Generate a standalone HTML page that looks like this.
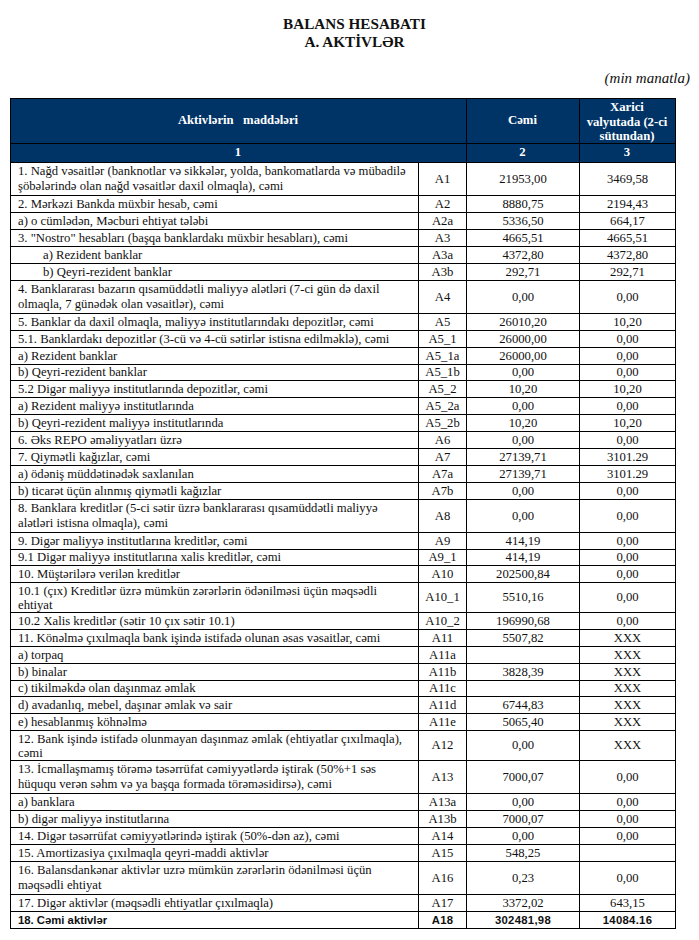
<!DOCTYPE html>
<html><head><meta charset="utf-8"><title>Balans hesabati</title>
<style>
*{margin:0;padding:0;box-sizing:border-box}
html,body{width:699px;height:940px;background:#fff;overflow:hidden}
body{position:relative;font-family:"Liberation Serif",serif;color:#111;font-size:12.7px}
.a{position:absolute}
.t{position:absolute;white-space:pre;line-height:15px}
.h{position:absolute;background:#000}
.v{position:absolute;background:#000;width:1px}
.hd{position:absolute;color:#fff;font-weight:bold;text-align:center;white-space:pre}
.c{position:absolute;display:flex;align-items:center;justify-content:center;white-space:pre;line-height:15px}
.l{position:absolute;display:flex;flex-direction:column;justify-content:center;white-space:pre;line-height:15px}
.b{font-family:"Liberation Sans",sans-serif;font-weight:bold;font-size:11.3px}
.c.b{letter-spacing:0.3px}
</style></head><body>

<div class="t" style="left:0;width:709px;top:15px;text-align:center;font-weight:bold;font-size:15.2px;line-height:17.7px">BALANS HESABATI<br>A. AKTİVLƏR</div>
<div class="t" style="right:9px;top:70px;font-style:italic;font-size:15px;line-height:16px">(min manatla)</div>
<div class="a" style="left:10px;top:98px;width:666px;height:64px;background:#003366"></div>
<div class="hd" style="left:10px;width:456px;top:113px;line-height:15px">Aktivlərin   maddələri</div>
<div class="hd" style="left:10px;width:456px;top:145px;line-height:15px">1</div>
<div class="hd" style="left:466px;width:113px;top:113px;line-height:15px">Cəmi</div>
<div class="hd" style="left:466px;width:113px;top:145px;line-height:15px">2</div>
<div class="hd" style="left:579px;width:96px;top:100px;line-height:14.6px">Xarici<br>valyutada (2-ci<br>sütundan)</div>
<div class="hd" style="left:579px;width:96px;top:145px;line-height:15px">3</div>
<div class="h" style="left:10px;top:98px;width:666px;height:1px"></div>
<div class="h" style="left:10px;top:143px;width:666px;height:1px"></div>
<div class="h" style="left:10px;top:162px;width:666px;height:1px"></div>
<div class="h" style="left:10px;top:195px;width:666px;height:1px"></div>
<div class="h" style="left:10px;top:212px;width:666px;height:1px"></div>
<div class="h" style="left:10px;top:229px;width:666px;height:1px"></div>
<div class="h" style="left:10px;top:246px;width:666px;height:1px"></div>
<div class="h" style="left:10px;top:263px;width:666px;height:1px"></div>
<div class="h" style="left:10px;top:280px;width:666px;height:1px"></div>
<div class="h" style="left:10px;top:313px;width:666px;height:1px"></div>
<div class="h" style="left:10px;top:330px;width:666px;height:1px"></div>
<div class="h" style="left:10px;top:347px;width:666px;height:1px"></div>
<div class="h" style="left:10px;top:364px;width:666px;height:1px"></div>
<div class="h" style="left:10px;top:380px;width:666px;height:1px"></div>
<div class="h" style="left:10px;top:397px;width:666px;height:1px"></div>
<div class="h" style="left:10px;top:414px;width:666px;height:1px"></div>
<div class="h" style="left:10px;top:431px;width:666px;height:1px"></div>
<div class="h" style="left:10px;top:448px;width:666px;height:1px"></div>
<div class="h" style="left:10px;top:465px;width:666px;height:1px"></div>
<div class="h" style="left:10px;top:482px;width:666px;height:1px"></div>
<div class="h" style="left:10px;top:499px;width:666px;height:1px"></div>
<div class="h" style="left:10px;top:532px;width:666px;height:1px"></div>
<div class="h" style="left:10px;top:549px;width:666px;height:1px"></div>
<div class="h" style="left:10px;top:565px;width:666px;height:1px"></div>
<div class="h" style="left:10px;top:582px;width:666px;height:1px"></div>
<div class="h" style="left:10px;top:612px;width:666px;height:1px"></div>
<div class="h" style="left:10px;top:629px;width:666px;height:1px"></div>
<div class="h" style="left:10px;top:646px;width:666px;height:1px"></div>
<div class="h" style="left:10px;top:663px;width:666px;height:1px"></div>
<div class="h" style="left:10px;top:680px;width:666px;height:1px"></div>
<div class="h" style="left:10px;top:696px;width:666px;height:1px"></div>
<div class="h" style="left:10px;top:713px;width:666px;height:1px"></div>
<div class="h" style="left:10px;top:730px;width:666px;height:1px"></div>
<div class="h" style="left:10px;top:760px;width:666px;height:1px"></div>
<div class="h" style="left:10px;top:793px;width:666px;height:1px"></div>
<div class="h" style="left:10px;top:810px;width:666px;height:1px"></div>
<div class="h" style="left:10px;top:827px;width:666px;height:1px"></div>
<div class="h" style="left:10px;top:844px;width:666px;height:1px"></div>
<div class="h" style="left:10px;top:861px;width:666px;height:1px"></div>
<div class="h" style="left:10px;top:894px;width:666px;height:1px"></div>
<div class="h" style="left:10px;top:911px;width:666px;height:1px"></div>
<div class="h" style="left:10px;top:928px;width:666px;height:1px"></div>
<div class="v" style="left:10px;top:98px;height:831px"></div>
<div class="v" style="left:418px;top:162px;height:767px"></div>
<div class="v" style="left:466px;top:98px;height:831px"></div>
<div class="v" style="left:579px;top:98px;height:831px"></div>
<div class="v" style="left:675px;top:98px;height:831px"></div>
<div class="l" style="left:18px;top:163px;height:32px">1. Nağd vəsaitlər (banknotlar və sikkələr, yolda, bankomatlarda və mübadilə<br>şöbələrində olan nağd vəsaitlər daxil olmaqla), cəmi</div>
<div class="c" style="left:419px;width:47px;top:163px;height:32px">A1</div>
<div class="c" style="left:467px;width:112px;top:163px;height:32px">21953,00</div>
<div class="c" style="left:580px;width:95px;top:163px;height:32px">3469,58</div>
<div class="l" style="left:18px;top:196px;height:16px">2. Mərkəzi Bankda müxbir hesab, cəmi</div>
<div class="c" style="left:419px;width:47px;top:196px;height:16px">A2</div>
<div class="c" style="left:467px;width:112px;top:196px;height:16px">8880,75</div>
<div class="c" style="left:580px;width:95px;top:196px;height:16px">2194,43</div>
<div class="l" style="left:18px;top:213px;height:16px">a) o cümlədən, Məcburi ehtiyat tələbi</div>
<div class="c" style="left:419px;width:47px;top:213px;height:16px">A2a</div>
<div class="c" style="left:467px;width:112px;top:213px;height:16px">5336,50</div>
<div class="c" style="left:580px;width:95px;top:213px;height:16px">664,17</div>
<div class="l" style="left:18px;top:230px;height:16px">3. "Nostro" hesabları (başqa banklardakı müxbir hesabları), cəmi</div>
<div class="c" style="left:419px;width:47px;top:230px;height:16px">A3</div>
<div class="c" style="left:467px;width:112px;top:230px;height:16px">4665,51</div>
<div class="c" style="left:580px;width:95px;top:230px;height:16px">4665,51</div>
<div class="l" style="left:43px;top:247px;height:16px">a) Rezident banklar</div>
<div class="c" style="left:419px;width:47px;top:247px;height:16px">A3a</div>
<div class="c" style="left:467px;width:112px;top:247px;height:16px">4372,80</div>
<div class="c" style="left:580px;width:95px;top:247px;height:16px">4372,80</div>
<div class="l" style="left:43px;top:264px;height:16px">b) Qeyri-rezident banklar</div>
<div class="c" style="left:419px;width:47px;top:264px;height:16px">A3b</div>
<div class="c" style="left:467px;width:112px;top:264px;height:16px">292,71</div>
<div class="c" style="left:580px;width:95px;top:264px;height:16px">292,71</div>
<div class="l" style="left:18px;top:281px;height:32px">4. Banklararası bazarın qısamüddətli maliyyə alətləri (7-ci gün də daxil<br>olmaqla, 7 günədək olan vəsaitlər), cəmi</div>
<div class="c" style="left:419px;width:47px;top:281px;height:32px">A4</div>
<div class="c" style="left:467px;width:112px;top:281px;height:32px">0,00</div>
<div class="c" style="left:580px;width:95px;top:281px;height:32px">0,00</div>
<div class="l" style="left:18px;top:314px;height:16px">5. Banklar da daxil olmaqla, maliyyə institutlarındakı depozitlər, cəmi</div>
<div class="c" style="left:419px;width:47px;top:314px;height:16px">A5</div>
<div class="c" style="left:467px;width:112px;top:314px;height:16px">26010,20</div>
<div class="c" style="left:580px;width:95px;top:314px;height:16px">10,20</div>
<div class="l" style="left:18px;top:331px;height:16px">5.1. Banklardakı depozitlər (3-cü və 4-cü sətirlər istisna edilməklə), cəmi</div>
<div class="c" style="left:419px;width:47px;top:331px;height:16px">A5_1</div>
<div class="c" style="left:467px;width:112px;top:331px;height:16px">26000,00</div>
<div class="c" style="left:580px;width:95px;top:331px;height:16px">0,00</div>
<div class="l" style="left:18px;top:348px;height:16px">a) Rezident banklar</div>
<div class="c" style="left:419px;width:47px;top:348px;height:16px">A5_1a</div>
<div class="c" style="left:467px;width:112px;top:348px;height:16px">26000,00</div>
<div class="c" style="left:580px;width:95px;top:348px;height:16px">0,00</div>
<div class="l" style="left:18px;top:365px;height:15px">b) Qeyri-rezident banklar</div>
<div class="c" style="left:419px;width:47px;top:365px;height:15px">A5_1b</div>
<div class="c" style="left:467px;width:112px;top:365px;height:15px">0,00</div>
<div class="c" style="left:580px;width:95px;top:365px;height:15px">0,00</div>
<div class="l" style="left:18px;top:381px;height:16px">5.2 Digər maliyyə institutlarında depozitlər, cəmi</div>
<div class="c" style="left:419px;width:47px;top:381px;height:16px">A5_2</div>
<div class="c" style="left:467px;width:112px;top:381px;height:16px">10,20</div>
<div class="c" style="left:580px;width:95px;top:381px;height:16px">10,20</div>
<div class="l" style="left:18px;top:398px;height:16px">a) Rezident maliyyə institutlarında</div>
<div class="c" style="left:419px;width:47px;top:398px;height:16px">A5_2a</div>
<div class="c" style="left:467px;width:112px;top:398px;height:16px">0,00</div>
<div class="c" style="left:580px;width:95px;top:398px;height:16px">0,00</div>
<div class="l" style="left:18px;top:415px;height:16px">b) Qeyri-rezident maliyyə institutlarında</div>
<div class="c" style="left:419px;width:47px;top:415px;height:16px">A5_2b</div>
<div class="c" style="left:467px;width:112px;top:415px;height:16px">10,20</div>
<div class="c" style="left:580px;width:95px;top:415px;height:16px">10,20</div>
<div class="l" style="left:18px;top:432px;height:16px">6. Əks REPO əməliyyatları üzrə</div>
<div class="c" style="left:419px;width:47px;top:432px;height:16px">A6</div>
<div class="c" style="left:467px;width:112px;top:432px;height:16px">0,00</div>
<div class="c" style="left:580px;width:95px;top:432px;height:16px">0,00</div>
<div class="l" style="left:18px;top:449px;height:16px">7. Qiymətli kağızlar, cəmi</div>
<div class="c" style="left:419px;width:47px;top:449px;height:16px">A7</div>
<div class="c" style="left:467px;width:112px;top:449px;height:16px">27139,71</div>
<div class="c" style="left:580px;width:95px;top:449px;height:16px">3101.29</div>
<div class="l" style="left:18px;top:466px;height:16px">a) ödəniş müddətinədək saxlanılan</div>
<div class="c" style="left:419px;width:47px;top:466px;height:16px">A7a</div>
<div class="c" style="left:467px;width:112px;top:466px;height:16px">27139,71</div>
<div class="c" style="left:580px;width:95px;top:466px;height:16px">3101.29</div>
<div class="l" style="left:18px;top:483px;height:16px">b) ticarət üçün alınmış qiymətli kağızlar</div>
<div class="c" style="left:419px;width:47px;top:483px;height:16px">A7b</div>
<div class="c" style="left:467px;width:112px;top:483px;height:16px">0,00</div>
<div class="c" style="left:580px;width:95px;top:483px;height:16px">0,00</div>
<div class="l" style="left:18px;top:500px;height:32px">8. Banklara kreditlər (5-ci sətir üzrə banklararası qısamüddətli maliyyə<br>alətləri istisna olmaqla), cəmi</div>
<div class="c" style="left:419px;width:47px;top:500px;height:32px">A8</div>
<div class="c" style="left:467px;width:112px;top:500px;height:32px">0,00</div>
<div class="c" style="left:580px;width:95px;top:500px;height:32px">0,00</div>
<div class="l" style="left:18px;top:533px;height:16px">9. Digər maliyyə institutlarına kreditlər, cəmi</div>
<div class="c" style="left:419px;width:47px;top:533px;height:16px">A9</div>
<div class="c" style="left:467px;width:112px;top:533px;height:16px">414,19</div>
<div class="c" style="left:580px;width:95px;top:533px;height:16px">0,00</div>
<div class="l" style="left:18px;top:550px;height:15px">9.1 Digər maliyyə institutlarına xalis kreditlər, cəmi</div>
<div class="c" style="left:419px;width:47px;top:550px;height:15px">A9_1</div>
<div class="c" style="left:467px;width:112px;top:550px;height:15px">414,19</div>
<div class="c" style="left:580px;width:95px;top:550px;height:15px">0,00</div>
<div class="l" style="left:18px;top:566px;height:16px">10. Müştərilərə verilən kreditlər</div>
<div class="c" style="left:419px;width:47px;top:566px;height:16px">A10</div>
<div class="c" style="left:467px;width:112px;top:566px;height:16px">202500,84</div>
<div class="c" style="left:580px;width:95px;top:566px;height:16px">0,00</div>
<div class="l" style="left:18px;top:583px;height:29px;line-height:14px">10.1 (çıx) Kreditlər üzrə mümkün zərərlərin ödənilməsi üçün məqsədli<br>ehtiyat</div>
<div class="c" style="left:419px;width:47px;top:583px;height:29px">A10_1</div>
<div class="c" style="left:467px;width:112px;top:583px;height:29px">5510,16</div>
<div class="c" style="left:580px;width:95px;top:583px;height:29px">0,00</div>
<div class="l" style="left:18px;top:613px;height:16px">10.2 Xalis kreditlər (sətir 10 çıx sətir 10.1)</div>
<div class="c" style="left:419px;width:47px;top:613px;height:16px">A10_2</div>
<div class="c" style="left:467px;width:112px;top:613px;height:16px">196990,68</div>
<div class="c" style="left:580px;width:95px;top:613px;height:16px">0,00</div>
<div class="l" style="left:18px;top:630px;height:16px">11. Könəlmə çıxılmaqla bank işində istifadə olunan əsas vəsaitlər, cəmi</div>
<div class="c" style="left:419px;width:47px;top:630px;height:16px">A11</div>
<div class="c" style="left:467px;width:112px;top:630px;height:16px">5507,82</div>
<div class="c" style="left:580px;width:95px;top:630px;height:16px">XXX</div>
<div class="l" style="left:18px;top:647px;height:16px">a) torpaq</div>
<div class="c" style="left:419px;width:47px;top:647px;height:16px">A11a</div>
<div class="c" style="left:467px;width:112px;top:647px;height:16px"></div>
<div class="c" style="left:580px;width:95px;top:647px;height:16px">XXX</div>
<div class="l" style="left:18px;top:664px;height:16px">b) binalar</div>
<div class="c" style="left:419px;width:47px;top:664px;height:16px">A11b</div>
<div class="c" style="left:467px;width:112px;top:664px;height:16px">3828,39</div>
<div class="c" style="left:580px;width:95px;top:664px;height:16px">XXX</div>
<div class="l" style="left:18px;top:681px;height:15px">c) tikilməkdə olan daşınmaz əmlak</div>
<div class="c" style="left:419px;width:47px;top:681px;height:15px">A11c</div>
<div class="c" style="left:467px;width:112px;top:681px;height:15px"></div>
<div class="c" style="left:580px;width:95px;top:681px;height:15px">XXX</div>
<div class="l" style="left:18px;top:697px;height:16px">d) avadanlıq, mebel, daşınar əmlak və sair</div>
<div class="c" style="left:419px;width:47px;top:697px;height:16px">A11d</div>
<div class="c" style="left:467px;width:112px;top:697px;height:16px">6744,83</div>
<div class="c" style="left:580px;width:95px;top:697px;height:16px">XXX</div>
<div class="l" style="left:18px;top:714px;height:16px">e) hesablanmış köhnəlmə</div>
<div class="c" style="left:419px;width:47px;top:714px;height:16px">A11e</div>
<div class="c" style="left:467px;width:112px;top:714px;height:16px">5065,40</div>
<div class="c" style="left:580px;width:95px;top:714px;height:16px">XXX</div>
<div class="l" style="left:18px;top:731px;height:29px;line-height:14px">12. Bank işində istifadə olunmayan daşınmaz əmlak (ehtiyatlar çıxılmaqla),<br>cəmi</div>
<div class="c" style="left:419px;width:47px;top:731px;height:29px">A12</div>
<div class="c" style="left:467px;width:112px;top:731px;height:29px">0,00</div>
<div class="c" style="left:580px;width:95px;top:731px;height:29px">XXX</div>
<div class="l" style="left:18px;top:761px;height:32px">13. İcmallaşmamış törəmə təsərrüfat cəmiyyətlərdə iştirak (50%+1 səs<br>hüququ verən səhm və ya başqa formada törəməsidirsə), cəmi</div>
<div class="c" style="left:419px;width:47px;top:761px;height:32px">A13</div>
<div class="c" style="left:467px;width:112px;top:761px;height:32px">7000,07</div>
<div class="c" style="left:580px;width:95px;top:761px;height:32px">0,00</div>
<div class="l" style="left:18px;top:794px;height:16px">a) banklara</div>
<div class="c" style="left:419px;width:47px;top:794px;height:16px">A13a</div>
<div class="c" style="left:467px;width:112px;top:794px;height:16px">0,00</div>
<div class="c" style="left:580px;width:95px;top:794px;height:16px">0,00</div>
<div class="l" style="left:18px;top:811px;height:16px">b) digər maliyyə institutlarına</div>
<div class="c" style="left:419px;width:47px;top:811px;height:16px">A13b</div>
<div class="c" style="left:467px;width:112px;top:811px;height:16px">7000,07</div>
<div class="c" style="left:580px;width:95px;top:811px;height:16px">0,00</div>
<div class="l" style="left:18px;top:828px;height:16px">14. Digər təsərrüfat cəmiyyətlərində iştirak (50%-dən az), cəmi</div>
<div class="c" style="left:419px;width:47px;top:828px;height:16px">A14</div>
<div class="c" style="left:467px;width:112px;top:828px;height:16px">0,00</div>
<div class="c" style="left:580px;width:95px;top:828px;height:16px">0,00</div>
<div class="l" style="left:18px;top:845px;height:16px">15. Amortizasiya çıxılmaqla qeyri-maddi aktivlər</div>
<div class="c" style="left:419px;width:47px;top:845px;height:16px">A15</div>
<div class="c" style="left:467px;width:112px;top:845px;height:16px">548,25</div>
<div class="c" style="left:580px;width:95px;top:845px;height:16px"></div>
<div class="l" style="left:18px;top:862px;height:32px">16. Balansdankənar aktivlər uzrə mümkün zərərlərin ödənilməsi üçün<br>məqsədli ehtiyat</div>
<div class="c" style="left:419px;width:47px;top:862px;height:32px">A16</div>
<div class="c" style="left:467px;width:112px;top:862px;height:32px">0,23</div>
<div class="c" style="left:580px;width:95px;top:862px;height:32px">0,00</div>
<div class="l" style="left:18px;top:895px;height:16px">17. Digər aktivlər (məqsədli ehtiyatlar çıxılmaqla)</div>
<div class="c" style="left:419px;width:47px;top:895px;height:16px">A17</div>
<div class="c" style="left:467px;width:112px;top:895px;height:16px">3372,02</div>
<div class="c" style="left:580px;width:95px;top:895px;height:16px">643,15</div>
<div class="l b" style="left:18px;top:912px;height:16px">18. Cəmi aktivlər</div>
<div class="c b" style="left:419px;width:47px;top:912px;height:16px">A18</div>
<div class="c b" style="left:467px;width:112px;top:912px;height:16px">302481,98</div>
<div class="c b" style="left:580px;width:95px;top:912px;height:16px">14084.16</div>
</body></html>
